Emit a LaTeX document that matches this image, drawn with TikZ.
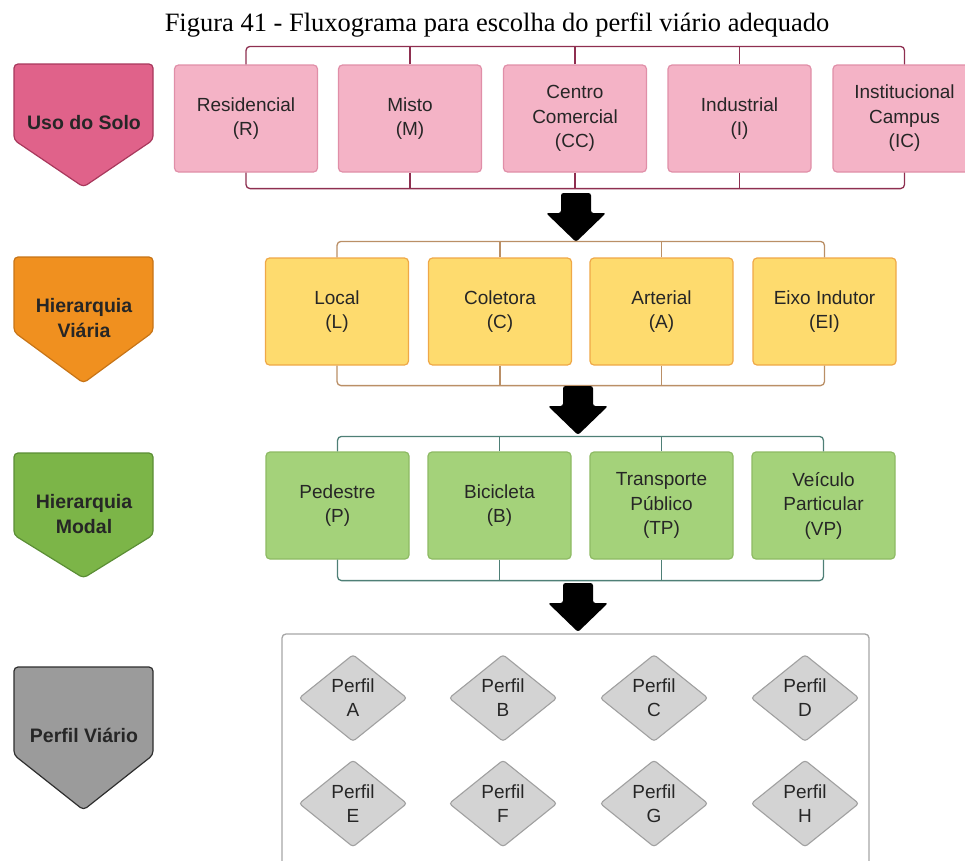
\documentclass[tikz,border=0pt]{standalone}
\usepackage{fontspec}
\setmainfont{Liberation Serif}
\newfontfamily\sansf{Liberation Sans}
\usetikzlibrary{shapes.geometric}

% palette
\definecolor{txt}{HTML}{262626}
\definecolor{pinkhead}{HTML}{E0628A}
\definecolor{pinkheadline}{HTML}{A8385C}
\definecolor{pinkbox}{HTML}{F4B3C6}
\definecolor{pinkboxline}{HTML}{E08FA8}
\definecolor{pinkwire}{HTML}{8E2F50}
\definecolor{orhead}{HTML}{F0901F}
\definecolor{orheadline}{HTML}{C77416}
\definecolor{yelbox}{HTML}{FEDB6E}
\definecolor{yelboxline}{HTML}{EFA847}
\definecolor{yelwire}{HTML}{BA8F66}
\definecolor{grhead}{HTML}{7CB548}
\definecolor{grheadline}{HTML}{5B8E35}
\definecolor{grbox}{HTML}{A4D27A}
\definecolor{grboxline}{HTML}{8DBA63}
\definecolor{grwire}{HTML}{4E7F76}
\definecolor{gyhead}{HTML}{9B9B9B}
\definecolor{gyheadline}{HTML}{2E2E2E}
\definecolor{gyframe}{HTML}{A6A6A6}
\definecolor{gydiam}{HTML}{D3D3D3}
\definecolor{gydiamline}{HTML}{A0A0A0}

% pentagon marker on the left of each level
\newcommand\pentshape[4]{%
  \draw[#4, line width=1.2pt, rounded corners=4pt]
    (14,#1) -- (153,#1) -- (153,#2) -- (83.5,#3) -- (14,#2) -- cycle;}

\tikzset{
  headtext/.style={font=\sansf\bfseries\fontsize{19.5}{25}\selectfont, text=txt, align=center},
  optbox/.style={rectangle, rounded corners=4pt, line width=1.2pt,
    minimum width=143pt, minimum height=107pt, inner sep=0pt,
    font=\sansf\fontsize{19}{24.5}\selectfont, text=txt, align=center},
  pinkopt/.style={optbox, fill=pinkbox, draw=pinkboxline},
  yelopt/.style={optbox, fill=yelbox, draw=yelboxline},
  gropt/.style={optbox, fill=grbox, draw=grboxline},
  wire/.style={line width=1.3pt, rounded corners=4pt},
  perfil/.style={diamond, aspect=1.24, minimum width=108pt, minimum height=87pt,
    inner sep=0pt, fill=gydiam, draw=gydiamline, line width=1.1pt, rounded corners=3pt,
    font=\sansf\fontsize{19}{24}\selectfont, text=txt, align=center},
  blockarrow/.pic={
    \fill[black, rounded corners=2.5pt]
      (-15,0) -- (15,0) -- (15,20) -- (30,20) -- (0,49) -- (-30,20) -- (-15,20) -- cycle;}
}

\begin{document}
\begin{tikzpicture}[x=1pt, y=-1pt]
\useasboundingbox (0,0) rectangle (965,860);
\begin{scope}
\clip (0,0) rectangle (965,860);

% title
\node[font=\fontsize{26.5}{30}\selectfont, text=black] (title) at (497,25)
  {Figura 41 - Fluxograma para escolha do perfil viário adequado};

% ---------------- level 1: land use
\pentshape{64}{140}{187}{fill=pinkhead, draw=pinkheadline}
\node[headtext] (uso) at (84,123) {Uso do Solo};

\node[pinkopt] (R)  at (246,118.5)   {Residencial\\(R)};
\node[pinkopt] (M)  at (410,118.5)   {Misto\\(M)};
\node[pinkopt] (CC) at (575,118.5)   {Centro\\Comercial\\(CC)};
\node[pinkopt] (I)  at (739.5,118.5) {Industrial\\(I)};
\node[pinkopt] (IC) at (904.5,118.5) {Institucional\\Campus\\(IC)};

\draw[wire, pinkwire] (R.north) -- ++(0,-18) -| (IC.north);
\draw[wire, pinkwire] (R.south) -- ++(0,16) -| (IC.south);
\foreach \n in {M,CC,I} {
  \draw[wire, pinkwire] (\n.north) -- ++(0,-18);
  \draw[wire, pinkwire] (\n.south) -- ++(0,16);
}

\pic at (576,193) {blockarrow};

% ---------------- level 2: road hierarchy
\pentshape{257}{332}{383}{fill=orhead, draw=orheadline}
\node[headtext] (hv) at (84,318) {Hierarquia\\Viária};

\node[yelopt] (L)  at (337,311.5)   {Local\\(L)};
\node[yelopt] (C)  at (500,311.5)   {Coletora\\(C)};
\node[yelopt] (A)  at (661.5,311.5) {Arterial\\(A)};
\node[yelopt] (EI) at (824.5,311.5) {Eixo Indutor\\(EI)};

\draw[wire, yelwire] (L.north) -- ++(0,-16) -| (EI.north);
\draw[wire, yelwire] (L.south) -- ++(0,20) -| (EI.south);
\foreach \n in {C,A} {
  \draw[wire, yelwire] (\n.north) -- ++(0,-16);
  \draw[wire, yelwire] (\n.south) -- ++(0,20);
}

\pic at (578,386) {blockarrow};

% ---------------- level 3: modal hierarchy
\pentshape{453}{535}{578}{fill=grhead, draw=grheadline}
\node[headtext] (hm) at (84,514) {Hierarquia\\Modal};

\node[gropt] (P)  at (337.5,505.5) {Pedestre\\(P)};
\node[gropt] (B)  at (499.5,505.5) {Bicicleta\\(B)};
\node[gropt] (TP) at (661.5,505.5) {Transporte\\Público\\(TP)};
\node[gropt] (VP) at (823.5,505.5) {Veículo\\Particular\\(VP)};

\draw[wire, grwire] (P.north) -- ++(0,-15) -| (VP.north);
\draw[wire, grwire] (P.south) -- ++(0,21) -| (VP.south);
\foreach \n in {B,TP} {
  \draw[wire, grwire] (\n.north) -- ++(0,-15);
  \draw[wire, grwire] (\n.south) -- ++(0,21);
}

\pic at (578,583) {blockarrow};

% ---------------- level 4: road profile
\pentshape{667}{755}{810}{fill=gyhead, draw=gyheadline}
\node[headtext] (pv) at (84,735) {Perfil Viário};

\draw[draw=gyframe, fill=white, line width=1.3pt, rounded corners=4pt]
  (282,634) rectangle (869,900);

\node[perfil] (pA) at (353,698)   {Perfil\\A};
\node[perfil] (pB) at (503,698)   {Perfil\\B};
\node[perfil] (pC) at (654,698)   {Perfil\\C};
\node[perfil] (pD) at (805,698)   {Perfil\\D};
\node[perfil] (pE) at (353,803.5) {Perfil\\E};
\node[perfil] (pF) at (503,803.5) {Perfil\\F};
\node[perfil] (pG) at (654,803.5) {Perfil\\G};
\node[perfil] (pH) at (805,803.5) {Perfil\\H};
\end{scope}
\end{tikzpicture}
\end{document}
